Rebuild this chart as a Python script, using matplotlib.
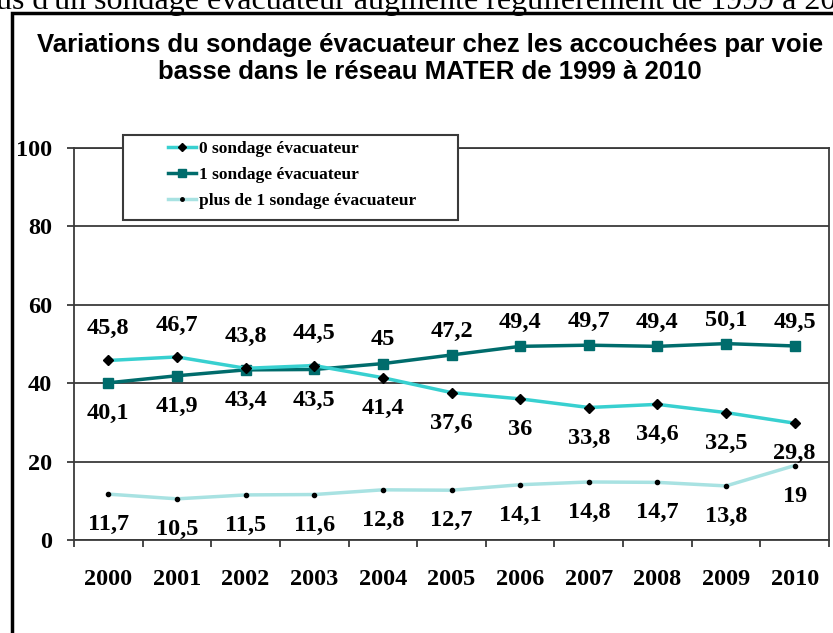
import matplotlib.pyplot as plt
from matplotlib.patches import Rectangle
from matplotlib.lines import Line2D

# ==============================
# données
# ==============================

annees = ["2000", "2001", "2002", "2003", "2004", "2005",
          "2006", "2007", "2008", "2009", "2010"]

zero_sondage = [45.8, 46.7, 43.8, 44.5, 41.4, 37.6, 36, 33.8, 34.6, 32.5, 29.8]
un_sondage = [40.1, 41.9, 43.4, 43.5, 45, 47.2, 49.4, 49.7, 49.4, 50.1, 49.5]
plus_de_un = [11.7, 10.5, 11.5, 11.6, 12.8, 12.7, 14.1, 14.8, 14.7, 13.8, 19]

# côté de l'étiquette : +1 au-dessus, -1 en dessous
cote_zero = [1, 1, 1, 1, -1, -1, -1, -1, -1, -1, -1]
cote_un = [-1, -1, -1, -1, 1, 1, 1, 1, 1, 1, 1]
cote_plus = [-1] * 11

noms = ["0 sondage évacuateur", "1 sondage évacuateur",
        "plus de 1 sondage évacuateur"]

titre = ("Variations du sondage évacuateur chez les accouchées par voie\n"
         "basse dans le réseau MATER de 1999 à 2010")
texte_haut = "us d'un sondage évacuateur augmente régulièrement de 1999 à 2010"

serif = "Liberation Serif"
sans = "Liberation Sans"
gris = "#3a3a3a"

fig = plt.figure(figsize=(8.33, 6.33), dpi=100)
ax = fig.add_axes([74 / 833, 1 - 540 / 633, 755 / 833, 392 / 633])

x = list(range(len(annees)))

ax.plot(x, zero_sondage, color="#38D0D0", linewidth=2.5,
        marker="D", markersize=5, markerfacecolor="black",
        markeredgecolor="black", zorder=4)
ax.plot(x, un_sondage, color="#006C6C", linewidth=2.5,
        marker="s", markersize=7, markerfacecolor="#006C6C",
        markeredgecolor="#006C6C", zorder=3)
ax.plot(x, plus_de_un, color="#A8E2E2", linewidth=2.5,
        marker="o", markersize=3, markerfacecolor="black",
        markeredgecolor="black", zorder=3)

# ==============================
# étiquettes de données
# ==============================

def etiquettes(valeurs, cotes, haut):
    for i, (v, c) in enumerate(zip(valeurs, cotes)):
        dy = haut if c > 0 else -22
        ax.annotate(f"{v:g}".replace(".", ","), (i, v),
                    xytext=(0, dy), textcoords="offset points",
                    ha="center", va="center", fontsize=17.5,
                    fontweight="bold", family=serif, zorder=6)

etiquettes(zero_sondage, cote_zero, 23)
etiquettes(un_sondage, cote_un, 17)
etiquettes(plus_de_un, cote_plus, 21)

# ==============================
# axes
# ==============================

ax.set_xlim(-0.5, len(annees) - 0.5)
ax.set_ylim(0, 100)
ax.set_yticks([0, 20, 40, 60, 80, 100])
ax.set_xticks([i - 0.5 for i in range(len(annees) + 1)])
ax.set_xticklabels([])
ax.set_xticks(x, minor=True)
ax.set_xticklabels(annees, minor=True)

ax.tick_params(axis="x", which="major", length=5, width=1.3, color=gris,
               direction="out")
ax.tick_params(axis="x", which="minor", length=0, pad=21)
ax.tick_params(axis="y", length=5, width=1.3, color=gris, pad=11)

for lab in ax.get_xticklabels(minor=True) + ax.get_yticklabels():
    lab.set_family(serif)
    lab.set_fontweight("bold")
    lab.set_fontsize(17.5)

ax.grid(True, axis="y", color=gris, linewidth=1.3)
ax.set_axisbelow(True)
for s in ax.spines.values():
    s.set_color(gris)
    s.set_linewidth(1.3)

# ==============================
# légende (cadre dessiné à part)
# ==============================

cadre = Rectangle((123 / 833, 1 - 220 / 633), 335 / 833, 85 / 633,
                  transform=fig.transFigure, facecolor="white",
                  edgecolor=gris, linewidth=1.5, zorder=2)
fig.patches.append(cadre)

poignees = [
    Line2D([], [], color="#38D0D0", linewidth=2.5, marker="D", markersize=4,
           markerfacecolor="black", markeredgecolor="black"),
    Line2D([], [], color="#006C6C", linewidth=2.5, marker="s", markersize=6,
           markerfacecolor="#006C6C", markeredgecolor="#006C6C"),
    Line2D([], [], color="#A8E2E2", linewidth=2.5, marker="o", markersize=2.5,
           markerfacecolor="black", markeredgecolor="black"),
]
leg = fig.legend(poignees, noms, loc="upper left",
                 bbox_to_anchor=(163 / 833, 1 - 136 / 633),
                 frameon=False, handlelength=1.6,
                 handletextpad=0.2, labelspacing=0.56, borderpad=0.3,
                 borderaxespad=0,
                 prop={"family": serif, "weight": "bold", "size": 12.5})
leg.set_zorder(10)

# ==============================
# titre, cadre et texte coupé
# ==============================

fig.text(430 / 833, 1 - 33 / 633, titre, ha="center", va="top",
         fontsize=18.5, fontweight="bold", family=sans, linespacing=1.18)

fig.patches.append(Rectangle((12 / 833, -0.05), 1.0, 1 - 13 / 633 + 0.05,
                             transform=fig.transFigure, fill=False,
                             edgecolor="black", linewidth=2.5))

fig.text(-4 / 833, 1 - 9 / 633, texte_haut, ha="left", va="baseline",
         fontsize=23, family=serif)

fig.savefig("out.png", dpi=100)
plt.close(fig)
